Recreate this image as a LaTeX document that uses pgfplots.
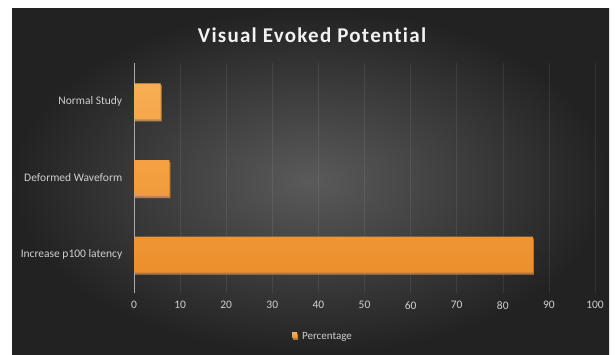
\documentclass[border=0pt]{standalone}
\usepackage{pgfplots}
\pgfplotsset{compat=1.18}
\usepackage{fontspec}
\setmainfont{Carlito}
\usetikzlibrary{shadows}
\definecolor{bartop}{HTML}{F8AE52}
\definecolor{barbot}{HTML}{EC8F2C}
\definecolor{txt}{HTML}{CFCFCF}
\begin{document}
\begin{tikzpicture}[x=1pt,y=1pt]
\fill[white] (0,0) rectangle (616,354);
\shade[inner color={rgb,255:red,90;green,90;blue,90}, outer color={rgb,255:red,34;green,34;blue,34}] (12,0) rectangle (609,345);
\node[text={rgb,255:red,242;green,242;blue,242}, font=\bfseries\fontsize{21}{24}\selectfont\addfontfeature{LetterSpace=6,Ligatures=NoCommon}] at (312,319) {Visual Evoked Potential};
\begin{axis}[
  at={(134pt,61pt)}, anchor=south west,
  width=461pt, height=230pt, scale only axis,
  xbar, xmin=0, xmax=100, ymin=-0.5, ymax=2.5,
  ytick={0,1,2},
  yticklabels={Increase p100 latency, Deformed Waveform, Normal Study},
  bar width=36pt,
  xtick={0,10,...,100},
  xmajorgrids,
  grid style={draw=white, draw opacity=0.08, line width=0.6pt},
  separate axis lines,
  axis x line*=bottom,
  x axis line style={draw=none},
  axis y line*=left,
  y axis line style={draw={rgb,255:red,170;green,170;blue,170}, line width=0.8pt, -},
  tick style={draw=none},
  /pgf/number format/assume math mode=true,
  ticklabel style={text=txt, font=\fontsize{11.5}{13}\selectfont},
  xticklabel style={yshift=-5pt},
  yticklabel style={xshift=-4pt},
  legend style={at={(0.41,-0.191)}, anchor=center, draw=none, fill=none, text=txt, font=\fontsize{11}{13}\selectfont},
  legend image code/.code={\path (0pt,0pt) (8pt,0pt); \fill[bartop] (0pt,-1pt) rectangle (5pt,4pt);},
]
\addplot[draw=none, top color=bartop, bottom color=barbot, drop shadow={shadow xshift=1pt, shadow yshift=-2pt, opacity=0.55}] coordinates {(86.5,0) (7.7,1) (5.8,2)};
\addlegendentry{Percentage}
\end{axis}
\end{tikzpicture}
\end{document}
